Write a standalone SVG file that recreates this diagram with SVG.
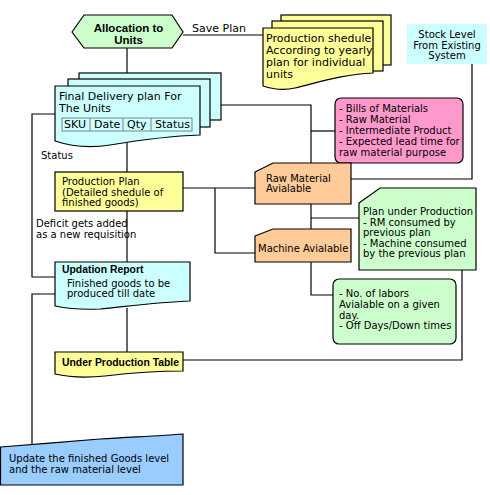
<svg xmlns="http://www.w3.org/2000/svg" width="490" height="495" viewBox="0 0 490 495">
<style>
text{font-family:"DejaVu Sans",Verdana,sans-serif;font-size:10px;fill:#000}
.t11{font-size:11px}
.b{font-family:"Liberation Sans",Arial,sans-serif;font-weight:bold;font-size:10.4px}
.s{stroke:#000;stroke-width:1.2}
.cy{fill:#ccffff}
.ye{fill:#ffff99}
.gr{fill:#ccffcc}
.pe{fill:#ffcc99}
.pk{fill:#ff99cc}
.bl{fill:#99ccff}
.c{fill:none;stroke:#000;stroke-width:1.2}
</style>
<rect width="490" height="495" fill="#fff"/>
<g id="connectors">
<path class="c" d="M127,48V73"/>
<path class="c" d="M183,35H263"/>
<path class="c" d="M127,143V172"/>
<path class="c" d="M55,114H32V277H55"/>
<path class="c" d="M55,294H32V445"/>
<path class="c" d="M127,211V262"/>
<path class="c" d="M127,308V352"/>
<path class="c" d="M207,105H311V163"/>
<path class="c" d="M311,131H335"/>
<path class="c" d="M472,64V179H351"/>
<path class="c" d="M183,188H255"/>
<path class="c" d="M215,188V253H255"/>
<path class="c" d="M311,204V229"/>
<path class="c" d="M311,218H359"/>
<path class="c" d="M311,262V295H333"/>
<path class="c" d="M462,270V360H183"/>
</g>
<g id="allocation">
<polygon class="s gr" points="72,32 84,15 172,15 183,32 172,48 84,48"/>
<text class="b" style="font-size:11.5px" x="128.5" y="32" text-anchor="middle">Allocation to</text>
<text class="b" style="font-size:11.5px" x="128.5" y="43.5" text-anchor="middle">Units</text>
</g>
<g id="save-plan-label">
<text class="t11" x="192" y="32">Save Plan</text>
</g>
<g id="production-shedule">
<rect class="s ye" x="281" y="15" width="110" height="50"/>
<rect class="s ye" x="272" y="21" width="111" height="50"/>
<path class="s ye" d="M263,28H373V73C345,74 320,82 295,88C283,91 272,89 263,86Z"/>
<text class="t11" x="266" y="42">Production shedule</text>
<text class="t11" x="266" y="54">According to yearly</text>
<text class="t11" x="266" y="66">plan for individual</text>
<text class="t11" x="266" y="78">units</text>
</g>
<g id="stock-level">
<rect class="cy" x="407" y="24" width="80" height="40"/>
<text x="447" y="38" text-anchor="middle">Stock Level</text>
<text x="447" y="48.5" text-anchor="middle">From Existing</text>
<text x="447" y="59" text-anchor="middle">System</text>
</g>
<g id="final-delivery">
<rect class="s cy" x="79" y="73" width="142" height="47"/>
<rect class="s cy" x="68" y="79" width="142" height="48"/>
<path class="s cy" d="M55,86H200V135C170,136 140,140 110,145C90,148 70,146 55,141Z"/>
<text class="t11" x="59" y="100">Final Delivery plan For</text>
<text class="t11" x="59" y="111.5">The Units</text>
<rect x="62" y="118" width="130" height="13" fill="none" stroke="#808080"/>
<path d="M90,118V131M123,118V131M151,118V131" stroke="#808080" fill="none"/>
<text class="t11" x="64" y="128">SKU</text>
<text class="t11" x="94" y="128">Date</text>
<text class="t11" x="127" y="128">Qty</text>
<text class="t11" x="155" y="128">Status</text>
</g>
<g id="status-label">
<text x="41" y="158.5">Status</text>
</g>
<g id="bom">
<rect class="s pk" x="335" y="98" width="128" height="65" rx="6"/>
<text x="339" y="112">- Bills of Materials</text>
<text x="339" y="123">- Raw Material</text>
<text x="339" y="134">- Intermediate Product</text>
<text x="339" y="145">- Expected lead time for</text>
<text x="339" y="156">raw material purpose</text>
</g>
<g id="production-plan">
<rect class="s ye" x="55" y="172" width="128" height="39"/>
<text x="62" y="185">Production Plan</text>
<text x="62" y="195.5">(Detailed shedule of</text>
<text x="62" y="206">finished goods)</text>
</g>
<g id="raw-material">
<polygon class="s pe" points="255,172 273,163 351,163 351,204 255,204"/>
<text x="266" y="181.5">Raw Material</text>
<text x="266" y="192">Avialable</text>
</g>
<g id="plan-under-production">
<polygon class="s gr" points="359,203 380,188 476,188 476,270 359,270"/>
<text x="363" y="215">Plan under Production</text>
<text x="363" y="225.5">- RM consumed by</text>
<text x="363" y="236">previous plan</text>
<text x="363" y="246.5">- Machine consumed</text>
<text x="363" y="257">by the previous plan</text>
</g>
<g id="deficit-label">
<text x="36" y="227">Deficit gets added</text>
<text x="36" y="238">as a new requisition</text>
</g>
<g id="machine">
<polygon class="s pe" points="255,236 273,229 351,229 351,262 255,262"/>
<text x="258" y="252">Machine Avialable</text>
</g>
<g id="updation-report">
<path class="s cy" d="M55,262H190V301C160,302 130,306 100,309C80,310 65,308 55,306Z"/>
<text class="b" x="62" y="273">Updation Report</text>
<text x="67" y="286.5">Finished goods to be</text>
<text x="67" y="297">produced till date</text>
</g>
<g id="labors">
<rect class="s gr" x="333" y="279" width="123" height="65" rx="6"/>
<text x="339" y="297">- No. of labors</text>
<text x="339" y="308">Avialable on a given</text>
<text x="339" y="318.5">day.</text>
<text x="339" y="329">- Off Days/Down times</text>
</g>
<g id="under-production-table">
<path class="s ye" d="M55,352H183V371C160,371 130,373 105,376C85,378 68,377 55,374Z"/>
<text class="b" x="62" y="365.5">Under Production Table</text>
</g>
<g id="update-levels">
<path class="s bl" d="M0.5,447C40,444 60,442 100,439C130,437 160,436 183,434V485H0.5Z"/>
<text x="9" y="462">Update the finished Goods level</text>
<text x="9" y="473">and the raw material level</text>
</g>
</svg>
